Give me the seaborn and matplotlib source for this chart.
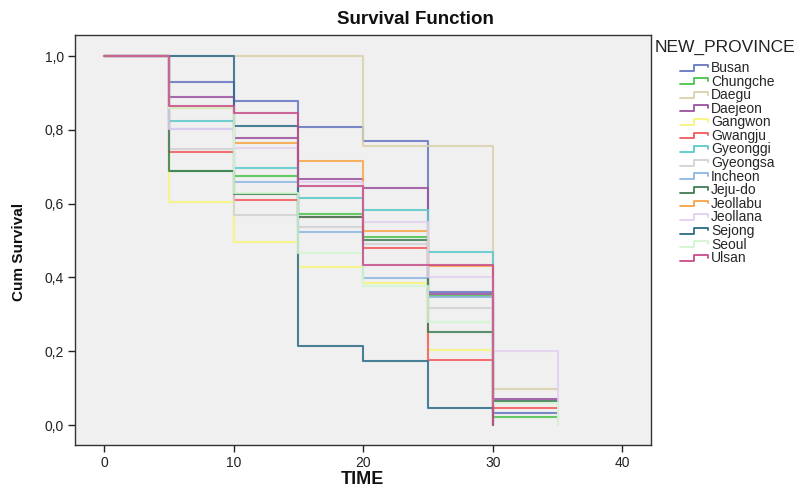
import numpy as np
import pandas as pd
import matplotlib
matplotlib.use("Agg")
import matplotlib.pyplot as plt
import seaborn as sns
from matplotlib import font_manager
from matplotlib.legend_handler import HandlerBase
from matplotlib.lines import Line2D
from matplotlib.ticker import FuncFormatter

# ---------------- data ----------------
TIMES = [0, 5, 10, 15, 20, 25, 30, 35]
PROVINCES = ["Busan", "Chungche", "Daegu", "Daejeon", "Gangwon", "Gwangju",
             "Gyeonggi", "Gyeongsa", "Incheon", "Jeju-do", "Jeollabu",
             "Jeollana", "Sejong", "Seoul", "Ulsan"]
COLORS = ["#6675c0", "#4cc44c", "#d9d2aa", "#9a52a0", "#f8f47c", "#f35a5a",
          "#5ccaca", "#d2d2d2", "#8db8e3", "#3f7d55", "#f6a548",
          "#e2cff1", "#2b6b88", "#d3f6cf", "#c84d8a"]
nan = np.nan
busan    = [1.000, 0.930, 0.878, 0.808, 0.771, 0.360, 0.033, 0.033]
chungche = [1.000, 0.689, 0.676, 0.571, 0.510, 0.350, 0.023, 0.023]
daegu    = [1.000, 1.000, 1.000, 1.000, 0.757, 0.757, 0.098, 0.098]
daejeon  = [1.000, 0.890, 0.779, 0.666, 0.643, 0.355, 0.070, 0.070]
gangwon  = [1.000, 0.605, 0.495, 0.429, 0.384, 0.204, 0.000, nan]
gwangju  = [1.000, 0.741, 0.610, 0.565, 0.480, 0.176, 0.045, 0.045]
gyeonggi = [1.000, 0.824, 0.696, 0.614, 0.582, 0.468, 0.000, nan]
gyeongsa = [1.000, 0.748, 0.569, 0.536, 0.490, 0.318, 0.000, nan]
incheon  = [1.000, 0.801, 0.658, 0.522, 0.398, 0.346, 0.000, nan]
jejudo   = [1.000, 0.689, 0.626, 0.565, 0.501, 0.252, 0.065, 0.065]
jeollabu = [1.000, 0.858, 0.763, 0.716, 0.525, 0.431, 0.000, nan]
jeollana = [1.000, 0.801, 0.752, 0.660, 0.551, 0.401, 0.201, 0.000]
sejong   = [1.000, 1.000, 0.810, 0.214, 0.173, 0.045, 0.000, nan]
seoul    = [1.000, 0.860, 0.630, 0.467, 0.378, 0.278, 0.060, 0.000]
ulsan    = [1.000, 0.864, 0.845, 0.649, 0.433, 0.433, 0.000, nan]
SERIES = [busan, chungche, daegu, daejeon, gangwon, gwangju, gyeonggi,
          gyeongsa, incheon, jejudo, jeollabu, jeollana, sejong, seoul, ulsan]
X_TICKS = [0, 10, 20, 30, 40]
Y_TICKS = [0.0, 0.2, 0.4, 0.6, 0.8, 1.0]

rows = []
for name, vals in zip(PROVINCES, SERIES):
    for t, v in zip(TIMES, vals):
        if not np.isnan(v):
            rows.append({"TIME": t, "Cum Survival": v, "NEW_PROVINCE": name})
df = pd.DataFrame(rows)

# ---------------- style ----------------
names = {f.name for f in font_manager.fontManager.ttflist}
base = "Liberation Sans" if "Liberation Sans" in names else "DejaVu Sans"
narrow = "Liberation Sans Narrow" if "Liberation Sans Narrow" in names else base

sns.set_theme(style="white")
plt.rcParams["font.family"] = [base]

W, H = 806, 488
fig = plt.figure(figsize=(W / 100, H / 100), dpi=100)
fig.patch.set_facecolor("white")
ax = fig.add_axes([75 / W, 1 - 445 / H, (651 - 75) / W, (445 - 35) / H])
ax.set_facecolor("#f0f0f0")

sns.lineplot(data=df, x="TIME", y="Cum Survival", hue="NEW_PROVINCE",
             hue_order=PROVINCES, palette=dict(zip(PROVINCES, COLORS)),
             estimator=None, drawstyle="steps-post", linewidth=1.5,
             alpha=0.85, legend=False, ax=ax)

ax.set_xlim(-2.24, 42.2)
ax.set_ylim(-0.054, 1.057)
ax.set_xticks(X_TICKS)
ax.set_yticks(Y_TICKS)
ax.yaxis.set_major_formatter(FuncFormatter(lambda v, p: f"{v:.1f}".replace(".", ",")))
ax.tick_params(direction="out", length=5, width=1, colors="#222222",
               labelsize=10, left=True, bottom=True, pad=3)
for s in ax.spines.values():
    s.set_color("#333333")
    s.set_linewidth(1)
ax.set_xlabel("")
ax.set_ylabel("")

fig.text(415 / W, 1 - 20 / H, "Survival Function", ha="center", va="center",
         fontsize=13.5, fontweight="bold", color="#111111")
fig.text(362 / W, 1 - 479 / H, "TIME", ha="center", va="center",
         fontsize=13, fontweight="bold", color="#111111")
fig.text(19 / W, 1 - 252 / H, "Cum Survival", ha="center", va="center",
         rotation=90, fontsize=11, fontweight="bold", color="#111111",
         family=[narrow], fontstretch="condensed")
fig.text(655 / W, 1 - 47 / H, "NEW_PROVINCE", ha="left", va="center",
         fontsize=12.5, color="#222222")


class StepHandler(HandlerBase):
    def create_artists(self, legend, orig_handle, xdescent, ydescent,
                       width, height, fontsize, trans):
        x0 = -xdescent
        y0 = -ydescent + height * 0.15
        y1 = -ydescent + height * 0.75
        xs = [x0, x0 + 0.5 * width, x0 + 0.5 * width, x0 + width, x0 + width]
        ys = [y0, y0, y1, y1, y1 - (y1 - y0) * 0.45]
        ln = Line2D(xs, ys, color=orig_handle.get_color(),
                    lw=orig_handle.get_linewidth(), transform=trans)
        return [ln]


handles = [Line2D([], [], color=c, lw=1.3) for c in COLORS]
fig.legend(handles, PROVINCES, handler_map={Line2D: StepHandler()},
           loc="upper left", bbox_to_anchor=(680 / W, 1 - 61 / H),
           bbox_transform=fig.transFigure, frameon=False, fontsize=10,
           handlelength=2.0, handletextpad=0.25, labelspacing=-0.03,
           borderpad=0, borderaxespad=0)

fig.savefig("out.png", dpi=100)
